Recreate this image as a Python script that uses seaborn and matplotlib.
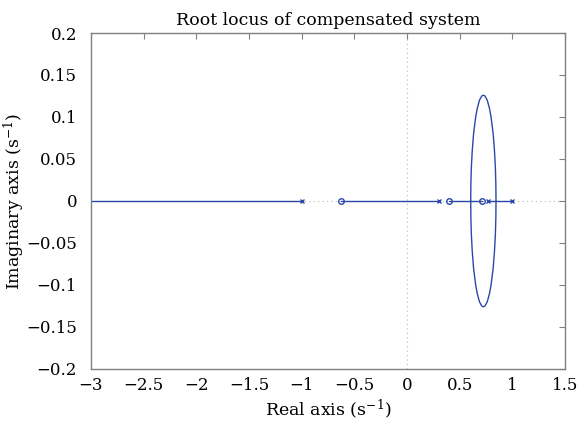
import matplotlib
matplotlib.use("Agg")
import matplotlib.pyplot as plt
import seaborn as sns

# Open-loop poles and zeros
pole_re = [-1.0, 0.30, 0.77, 1.0]
zero_re = [-0.63, 0.40, 0.71]

# Real-axis locus segments
seg_re = [[-3.0, -1.0], [-0.63, 0.30], [0.40, 0.71], [0.77, 1.0]]

# Complex branch (upper half, left to right); lower half is the conjugate
loop_re = [0.605, 0.6065, 0.611, 0.6195, 0.632, 0.652, 0.6665, 0.688, 0.710, 0.725,
           0.740, 0.762, 0.7835, 0.798, 0.818, 0.8305, 0.839, 0.8435, 0.845]
loop_im = [0.0, 0.02, 0.04, 0.06, 0.08, 0.10, 0.11, 0.12, 0.125, 0.126,
           0.125, 0.12, 0.11, 0.10, 0.08, 0.06, 0.04, 0.02, 0.0]

x_ticks = [-3, -2.5, -2, -1.5, -1, -0.5, 0, 0.5, 1, 1.5]
y_ticks = [-0.2, -0.15, -0.1, -0.05, 0, 0.05, 0.1, 0.15, 0.2]

sns.set_style("white")
plt.rcParams["font.family"] = ["DejaVu Serif"]
plt.rcParams["mathtext.fontset"] = "dejavuserif"
plt.rcParams["text.color"] = "black"
plt.rcParams["axes.labelcolor"] = "black"
plt.rcParams["xtick.labelcolor"] = "black"
plt.rcParams["ytick.labelcolor"] = "black"

line_col = "#2b48a8"
grey = "#808080"

fig = plt.figure(figsize=(5.77, 4.22), dpi=100)
ax = fig.add_axes([0.1577, 0.1256, 0.8215, 0.7962])

# dotted reference axes
ax.axhline(0, color="#b8b8b8", ls=(0, (1, 3)), lw=0.8, zorder=0)
ax.axvline(0, color="#b8b8b8", ls=(0, (1, 3)), lw=0.8, zorder=0)

for seg in seg_re:
    sns.lineplot(x=seg, y=[0, 0], ax=ax, color=line_col, lw=1.0, sort=False, estimator=None)

sns.lineplot(x=loop_re, y=loop_im, ax=ax, color=line_col, lw=1.0, sort=False, estimator=None)
sns.lineplot(x=loop_re, y=[-v for v in loop_im], ax=ax, color=line_col, lw=1.0,
             sort=False, estimator=None)

ax.plot(pole_re, [0] * len(pole_re), "x", color=line_col, ms=3.5, mew=1.0, zorder=5)
ax.plot(zero_re, [0] * len(zero_re), "o", color=line_col, mfc="none", ms=4, mew=1.0, zorder=5)

ax.set_xlim(-3, 1.5)
ax.set_ylim(-0.2, 0.2)
ax.set_xticks(x_ticks)
ax.set_yticks(y_ticks)
fmt = lambda v: ("%g" % v).replace("-", "\u2212")
ax.set_xticklabels([fmt(v) for v in x_ticks])
ax.set_yticklabels([fmt(v) for v in y_ticks])
ax.tick_params(direction="in", top=True, right=True, length=4, color=grey,
               labelsize=12, labelcolor="black")
ax.tick_params(axis="y", pad=10)
ax.tick_params(axis="x", pad=6)
for sp in ax.spines.values():
    sp.set_color(grey)
    sp.set_linewidth(1.0)

ax.set_title("Root locus of compensated system", fontsize=12.5, pad=6, color="black")
ax.set_xlabel("Real axis (s$^{\\mathregular{-1}}$)", fontsize=12.5, labelpad=2)
ax.set_ylabel("Imaginary axis (s$^{\\mathregular{-1}}$)", fontsize=12.5)
ax.yaxis.set_label_coords(-0.135, 0.5)

fig.savefig("out.png", dpi=100)
